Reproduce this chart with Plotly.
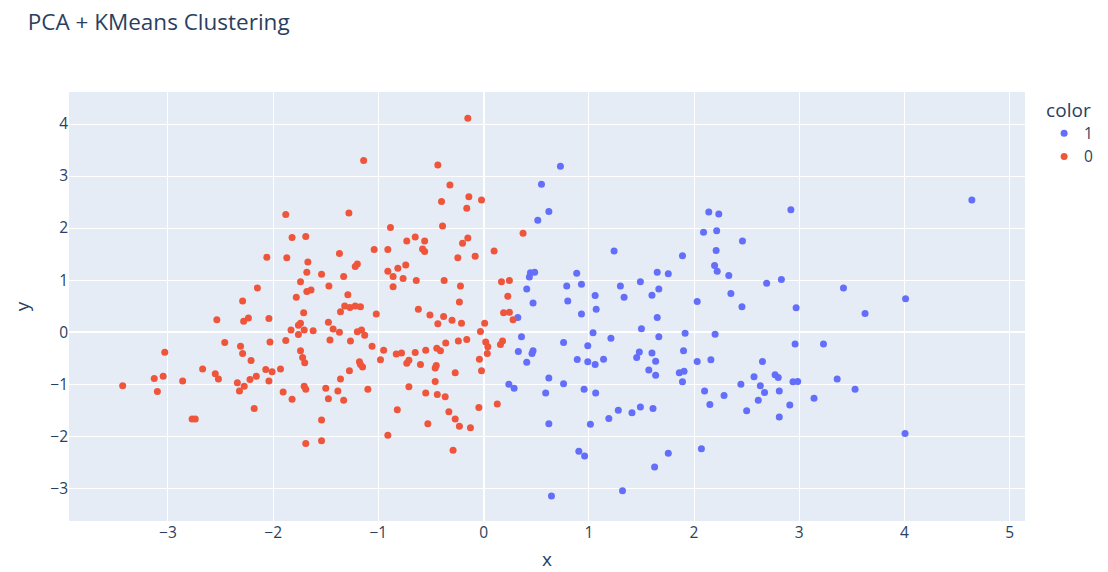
import plotly.graph_objects as go

# cluster "1" (blue)
x1 = [0.73, 0.55, 0.62, 0.515, 0.445, 0.485, 0.435, 0.41, 0.47, 0.79, 0.80, 0.885, 0.93, 1.06, 1.24, 1.30, 1.335,
      1.49, 1.60, 1.65, 1.665, 1.755, 1.89, 2.03, 2.14, 2.235, 2.09, 2.215, 2.46, 2.21, 2.195, 2.22, 2.33, 2.35, 2.455,
      0.93, 1.07, 1.65, 0.325, 0.36, 0.33, 0.47, 0.46, 0.41, 0.62, 0.24, 0.29, 0.59, 0.76, 0.62, 0.76, 0.89, 0.99,
      1.04, 0.99, 1.06, 1.14, 1.21, 0.955, 1.065, 1.015, 1.19, 1.28, 1.41, 1.49, 1.61, 1.50, 1.665, 1.48, 1.455,
      1.60, 1.635, 1.57, 1.635, 1.915, 1.90, 1.86, 1.905, 1.89, 2.03, 2.16, 2.20, 2.10, 2.15, 2.285, 2.445, 2.50,
      2.57, 0.905, 0.96, 1.755, 1.625, 2.07, 1.32, 0.645,
      2.92, 4.64, 2.69, 2.83, 3.42, 4.01, 2.97,
      3.625, 2.96, 3.23, 2.65, 2.77, 2.80, 2.63, 2.67, 2.81, 2.94, 2.985, 3.36, 3.53, 2.61, 3.14, 2.91, 2.81, 4.005]
y1 = [3.19, 2.84, 2.32, 2.15, 1.14, 1.15, 1.06, 0.83, 0.56, 0.885, 0.60, 1.13, 0.92, 0.705, 1.56, 0.885, 0.67,
      0.97, 0.71, 1.15, 0.83, 1.12, 1.47, 0.59, 2.31, 2.27, 1.92, 1.95, 1.75, 1.57, 1.28, 1.17, 1.09, 0.74, 0.49,
      0.35, 0.44, 0.28, 0.28, -0.09, -0.37, -0.36, -0.41, -0.58, -0.88, -1.0, -1.08, -1.17, -0.99, -1.76, -0.20,
      -0.525, -0.26, -0.01, -0.57, -0.62, -0.52, -0.12, -1.10, -1.17, -1.77, -1.66, -1.50, -1.55, -1.44, -1.47,
      0.065, -0.09, -0.38, -0.49, -0.40, -0.56, -0.73, -0.83, -0.02, -0.36, -0.78, -0.75, -0.955, -0.565, -0.53,
      -0.04, -1.13, -1.39, -1.22, -1.0, -1.51, -0.86, -2.29, -2.38, -2.33, -2.59, -2.24, -3.05, -3.15,
      2.35, 2.54, 0.94, 1.01, 0.85, 0.64, 0.47,
      0.36, -0.23, -0.23, -0.565, -0.82, -0.87, -1.03, -1.16, -1.13, -0.955, -0.95, -0.90, -1.10, -1.31, -1.27,
      -1.40, -1.63, -1.95]

# cluster "0" (red)
x0 = [-1.88, -1.82, -1.69, -2.06, -1.87, -1.67, -1.68, -1.74, -1.68, -2.15, -2.29, -1.78,
      -0.15, -1.14, -0.435, -0.32, -0.40, -0.14, -0.02, -0.16, -1.28, -0.39, -0.885, -0.65, -0.73, -0.56, -0.15,
      -0.20, -1.04, -0.91, -0.58, -0.56, -1.37, -0.245, -0.08, -1.20, -1.22, -1.54, -1.33, -0.91, -0.815, -0.74,
      -0.86, -0.765, -0.64, -0.375, -1.47, -1.64, -0.86, -0.22, -1.29, -0.23,
      -2.535, -2.28, -2.235, -2.04, -1.71, -1.74, -1.76, -1.83, -1.705, -1.76, -2.46, -2.31, -2.29, -2.03, -1.88,
      -3.03, -1.74, -1.72, -1.70, -2.21, -2.67, -2.55, -2.52, -3.13, -3.045, -2.86, -3.43, -3.10, -2.34, -2.275,
      -2.32, -2.22, -2.16, -2.07, -2.01, -1.93, -2.04, -1.905, -1.82, -1.705, -1.69, -2.18, -2.77, -2.74, -1.69,
      -1.32, -1.27, -1.22, -1.17, -1.36, -1.62, -1.02, -0.62, -0.51, -0.38, -0.435, -0.30, -0.21, 0.01, -0.03,
      -1.475, -1.43, -1.37, -1.20, -1.16, -1.13, -1.46, -1.265, -1.06, -0.95, -0.83, -0.78, -0.65, -0.55, -0.445,
      -0.41, -0.36, -0.24, -0.16, -0.04, -0.02, -0.98, -0.73, -0.71, -0.60, -0.45, -0.46, -0.27, -1.18, -1.15,
      -1.17, -1.275, -1.36, -1.50, -1.385, -1.475, -1.33, -1.10, -0.71, -0.46, -0.55, -0.44, -0.365, -0.82, -0.33,
      -0.27, -0.23, -0.125, -0.045, -0.53, -1.54, -0.91, -1.54, -0.29,
      0.375, 0.10, 0.17, 0.245, 0.23,
      0.19, 0.245, 0.28, 0.02, 0.04, 0.035, 0.18, 0.16, 0.13]
y0 = [2.26, 1.82, 1.84, 1.44, 1.43, 1.35, 1.15, 0.97, 0.78, 0.85, 0.60, 0.67,
      4.11, 3.30, 3.21, 2.83, 2.51, 2.60, 2.54, 2.38, 2.29, 2.04, 2.01, 1.83, 1.75, 1.75, 1.81,
      1.71, 1.59, 1.59, 1.60, 1.55, 1.51, 1.43, 1.46, 1.31, 1.26, 1.11, 1.07, 1.17, 1.23, 1.29,
      1.07, 1.03, 0.99, 0.99, 0.885, 0.81, 0.87, 0.885, 0.72, 0.58,
      0.24, 0.21, 0.27, 0.26, 0.37, 0.17, 0.13, 0.04, 0.04, -0.045, -0.20, -0.27, -0.41, -0.19, -0.16,
      -0.385, -0.36, -0.49, -0.59, -0.545, -0.71, -0.80, -0.90, -0.89, -0.85, -0.94, -1.03, -1.14, -0.975, -1.04,
      -1.13, -0.91, -0.85, -0.72, -0.76, -0.71, -0.94, -1.15, -1.29, -1.04, -1.10, -1.47, -1.67, -1.67, -2.14,
      0.50, 0.475, 0.50, 0.49, 0.39, 0.025, 0.35, 0.44, 0.33, 0.30, 0.16, 0.23, 0.17, 0.17, 0.01,
      0.19, 0.06, 0.0, 0.005, 0.04, -0.06, -0.15, -0.17, -0.27, -0.35, -0.42, -0.40, -0.39, -0.35, -0.31,
      -0.36, -0.21, -0.17, -0.14, -0.52, -0.74, -0.53, -0.60, -0.54, -0.62, -0.64, -0.69, -0.78, -0.57, -0.67,
      -0.62, -0.74, -0.90, -1.08, -1.13, -1.28, -1.31, -1.10, -1.05, -0.95, -1.17, -1.20, -1.24, -1.49, -1.53,
      -1.67, -1.81, -1.84, -1.45, -1.76, -1.69, -1.98, -2.09, -2.27,
      1.90, 1.56, 0.97, 0.99, 0.69,
      0.37, 0.38, 0.24, -0.19, -0.28, -0.41, -0.17, -0.24, -1.38]

fig = go.Figure()
fig.add_trace(go.Scatter(x=x1, y=y1, mode="markers", name="1",
                         marker=dict(color="#636efa", size=7)))
fig.add_trace(go.Scatter(x=x0, y=y0, mode="markers", name="0",
                         marker=dict(color="#EF553B", size=7)))

fig.update_layout(
    template="plotly",
    font=dict(size=15.5),
    title=dict(text="PCA + KMeans Clustering", x=0.025, xanchor="left",
               y=1 - 22 / 572, yanchor="middle", font=dict(size=22.5)),
    legend=dict(title=dict(text="color"), x=1.02, y=1),
    xaxis=dict(title=dict(text="x", standoff=20), range=[-3.94, 5.145], zeroline=True,
               tickvals=[-3, -2, -1, 0, 1, 2, 3, 4, 5]),
    yaxis=dict(title=dict(text="y"), range=[-3.63, 4.615], zeroline=True,
               tickvals=[-3, -2, -1, 0, 1, 2, 3, 4]),
    margin=dict(l=69, r=83, t=92, b=51, autoexpand=False),
    width=1108, height=572,
)

fig.write_html("out.html", config={"displayModeBar": False},
               post_script="document.body.style.margin='0';")
